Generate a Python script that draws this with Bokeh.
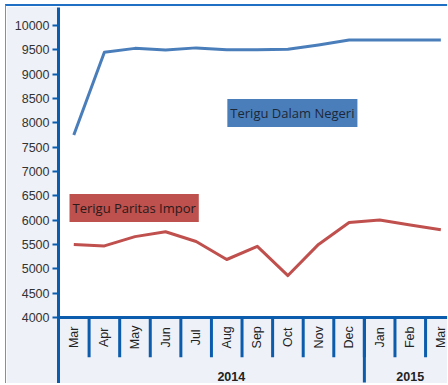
from math import pi
from bokeh.plotting import figure
from bokeh.models import Range1d, FixedTicker, Label, Span, BoxAnnotation
from bokeh.core.properties import value
from bokeh.embed import file_html
from bokeh.resources import INLINE

months = ["Mar", "Apr", "May", "Jun", "Jul", "Aug", "Sep", "Oct", "Nov", "Dec", "Jan", "Feb", "Mar"]
years = ["2014", "2015"]
dalam_negeri = [7750, 9450, 9530, 9495, 9540, 9500, 9500, 9510, 9600, 9700, 9700, 9700, 9700]
paritas_impor = [5500, 5470, 5660, 5760, 5560, 5190, 5460, 4860, 5500, 5950, 6000, 5900, 5800]
y_ticks = [4000, 4500, 5000, 5500, 6000, 6500, 7000, 7500, 8000, 8500, 9000, 9500, 10000]

AXIS = "#0b5cad"
PANEL = "#eef1f8"
SANS = "Liberation Sans"
Y_MIN = y_ticks[0]

idx = list(range(len(months)))
bounds = [i + 0.5 for i in range(len(months) - 1)]
year_bounds = [9.5]
year_pos = [5.15, 11]

p = figure(width=442, height=379, output_backend="svg", toolbar_location=None,
           x_range=Range1d(-0.5, 12.25), y_range=Range1d(2600, 10370),
           min_border_left=52, min_border_right=0, min_border_top=1, min_border_bottom=0)
p.styles = {"margin-left": "5px", "margin-top": "4px",
            "border-left": "1px solid #5b9bd5", "border-top": "2px solid #1f6fc5"}
p.border_fill_color = PANEL
p.background_fill_color = "white"
p.outline_line_color = None
p.grid.visible = False
p.xaxis.visible = False

# y axis
p.yaxis.ticker = FixedTicker(ticks=y_ticks)
p.yaxis.axis_line_color = AXIS
p.yaxis.axis_line_width = 3
p.yaxis.major_tick_line_color = AXIS
p.yaxis.major_tick_line_width = 2
p.yaxis.major_tick_out = 6
p.yaxis.major_tick_in = 0
p.yaxis.minor_tick_line_color = None
p.yaxis.major_label_text_font = SANS
p.yaxis.major_label_text_font_size = "12.5px"
p.yaxis.major_label_text_color = "#333333"
p.yaxis.major_label_standoff = 3

# category panel below the value area
p.add_layout(BoxAnnotation(top=Y_MIN, fill_color=PANEL, fill_alpha=1, line_color=None, level="underlay"))
p.add_layout(Span(location=Y_MIN, dimension="width", line_color=AXIS, line_width=3))
p.segment(x0=bounds, y0=Y_MIN, x1=bounds, y1=3180, line_color=AXIS, line_width=3)
p.segment(x0=year_bounds, y0=Y_MIN, x1=year_bounds, y1=2660, line_color=AXIS, line_width=3)
p.text(x=idx, y=3590, text=months, angle=pi / 2, text_align="center", text_baseline="middle",
       text_font=value(SANS), text_font_size="12.5px", text_color="#222222")
p.text(x=year_pos, y=2780, text=years, text_align="center", text_baseline="middle",
       text_font=value(SANS), text_font_style="bold",
       text_font_size="12.5px", text_color="#222222")

p.line(idx, dalam_negeri, line_color="#4a7ebb", line_width=3, line_join="round")
p.line(idx, paritas_impor, line_color="#c0504d", line_width=3, line_join="round")

p.add_layout(Label(x=5.02, y=8200, text="Terigu Dalam Negeri", text_align="left",
                   text_baseline="middle", text_font="Open Sans", text_font_size="13px",
                   text_color="#1c2838", background_fill_color="#4a7ebb", padding=(3, 5)))
p.add_layout(Label(x=-0.14, y=6250, text="Terigu Paritas Impor", text_align="left",
                   text_baseline="middle", text_font="Open Sans", text_font_size="13px",
                   text_color="#2a1a1a", background_fill_color="#be504d", padding=(3, 5)))

open("out.html", "w").write(file_html(p, INLINE))
